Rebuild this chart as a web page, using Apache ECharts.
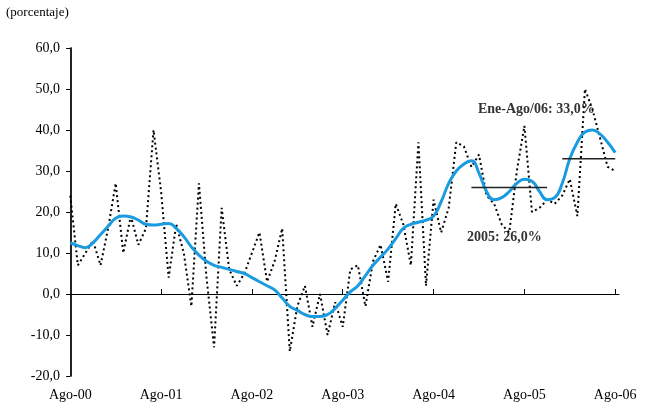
<!DOCTYPE html>
<html>
<head>
<meta charset="utf-8">
<script src="https://cdn.jsdelivr.net/npm/echarts@6/dist/echarts.min.js"></script>
<style>html,body{margin:0;padding:0;background:#fff}#chart{width:648px;height:404px}</style>
</head>
<body>
<div id="chart"></div>
<script>
// months from Ago-00 (0) to Ago-06 (72)
var tickLabels = ['Ago-00', 'Ago-01', 'Ago-02', 'Ago-03', 'Ago-04', 'Ago-05', 'Ago-06'];
var monthly = [24, 7, 10, 13, 7, 16, 27, 10, 19, 12, 16, 40, 25, 4, 17, 10, -3, 27, 4, -13,
  21, 6, 2, 5, 10, 15, 3, 8, 16, -14, -3, 2, -8, 0, -10, -2, -8, 6, 7, -3,
  8, 12, 3, 22, 17, 7, 37, 2, 23, 15, 21, 37, 36, 31, 34, 24, 22, 17, 15, 30,
  41, 20, 21, 23, 22, 24, 28, 19, 50, 45, 38, 31, 30];
var trend = [12.5, 11.8, 11.3, 12.5, 14.5, 16.5, 18.5, 19, 18.8, 18, 17, 16.8, 17, 17.2, 16, 14, 11.5, 9.5, 8, 7,
  6.5, 6, 5.5, 5, 4, 3, 2, 1, -1, -3, -4, -5, -5.5, -5.5, -5, -3.5, -1.5, 0.5, 2, 4.5,
  7, 9, 11, 13.5, 16, 17, 17.5, 18, 19, 22.5, 27, 30, 31.7, 32.5, 29.5, 25, 23, 23.5, 25, 27,
  28, 27.5, 25, 23, 23.5, 27, 33, 37, 39.5, 40, 39, 37, 34.5];
var avg2005 = [[53, 26], [63, 26]];
var avg2006 = [[65, 33], [72, 33]];

function pairs(arr) { return arr.map(function (v, i) { return [i, v]; }); }

var font = 'Liberation Serif';
var chart = echarts.init(document.getElementById('chart'));
chart.setOption({
  animation: false,
  grid: { left: 68, right: 29, top: 48, bottom: 28 },
  xAxis: [{
    type: 'value', min: -0.3, max: 72.5,
    axisLine: { onZero: true, lineStyle: { color: '#000', width: 1 } },
    axisTick: { show: true, inside: true, length: 5, customValues: [12, 24, 36, 48, 60, 72], lineStyle: { color: '#000' } },
    axisLabel: { show: false },
    splitLine: { show: false }
  }, {
    type: 'value', min: -0.3, max: 72.5, position: 'bottom',
    axisLine: { show: false, onZero: false }, axisTick: { show: false }, splitLine: { show: false },
    axisLabel: {
      customValues: [0, 12, 24, 36, 48, 60, 72],
      formatter: function (v) { return tickLabels[Math.round(v / 12)]; },
      fontFamily: font, fontSize: 14, color: '#000', margin: 12
    }
  }],
  yAxis: [{
    type: 'value', min: -20, max: 60, interval: 10,
    axisLine: { show: true, lineStyle: { color: '#666', width: 1.5 } },
    axisTick: { show: true, length: 4, lineStyle: { color: '#666' } },
    splitLine: { show: false },
    axisLabel: { formatter: function (v) { return v.toFixed(1).replace('.', ','); }, fontFamily: font, fontSize: 14, color: '#000', margin: 8 }
  }, {
    type: 'value', min: -20, max: 60, interval: 10, position: 'right',
    axisLine: { show: true, lineStyle: { color: '#000', width: 1.5 } },
    axisTick: { show: true, inside: true, length: 4, lineStyle: { color: '#000' } },
    axisLabel: { show: false }, splitLine: { show: false }
  }],
  series: [
    { type: 'line', data: pairs(monthly), symbol: 'none', lineStyle: { color: '#000', width: 2, type: [2, 3] } },
    { type: 'line', data: pairs(trend), symbol: 'none', smooth: 0.5, lineStyle: { color: '#1a9be0', width: 3 } },
    { type: 'line', data: avg2005, symbol: 'none', lineStyle: { color: '#222', width: 1.5 } },
    { type: 'line', data: avg2006, symbol: 'none', lineStyle: { color: '#222', width: 1.5 } }
  ],
  graphic: [
    { type: 'text', left: 6, top: 6, style: { text: '(porcentaje)', font: '13px ' + font, fill: '#000' } },
    { type: 'text', left: 478, top: 102, style: { text: 'Ene-Ago/06: 33,0%', font: 'bold 14px ' + font, fill: '#333' } },
    { type: 'text', left: 467, top: 230, style: { text: '2005: 26,0%', font: 'bold 14px ' + font, fill: '#333' } }
  ]
});
</script>
</body>
</html>
